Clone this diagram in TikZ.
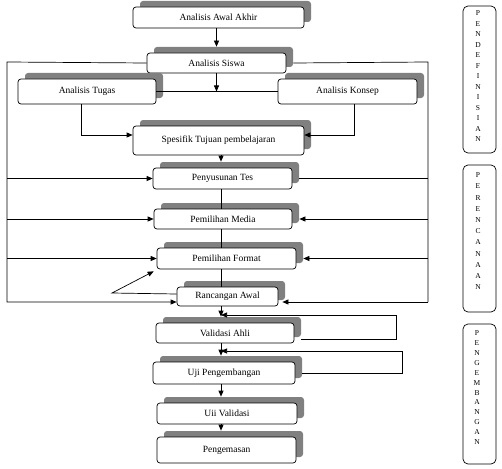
\documentclass[tikz,border=0pt]{standalone}
\usepackage{fontspec}
\setmainfont{Liberation Serif}
\usetikzlibrary{arrows.meta,shadows}
\definecolor{shade}{RGB}{128,128,128}
\begin{document}
\begin{tikzpicture}[x=1pt,y=-1pt,
  box/.style={draw, line width=0.7pt, rounded corners=3pt, fill=white, inner sep=0pt,
    font=\fontsize{9.5}{11}\selectfont,
    general shadow={fill=shade, shadow xshift=7pt, shadow yshift=6pt}},
  side/.style={draw, line width=0.7pt, rounded corners=5pt, minimum width=33pt, inner sep=0pt},
  letters/.style={inner sep=0pt, anchor=north, align=center, font=\fontsize{7.5}{#1}\selectfont},
  arr/.style={line width=0.7pt, -{Triangle[length=6pt,width=5pt]}},
  ln/.style={line width=0.7pt}
]
\useasboundingbox (0,0) rectangle (502,468);

% main boxes
\node[box, minimum width=171pt, minimum height=21pt] (aaa) at (218.5,17.5) {Analisis Awal Akhir};
\node[box, minimum width=139pt, minimum height=20pt] (siswa) at (216.5,63) {Analisis Siswa};
\node[box, minimum width=138pt, minimum height=25pt] (tugas) at (87,91.5) {Analisis Tugas};
\node[box, minimum width=139pt, minimum height=25pt] (konsep) at (347.5,91.5) {Analisis Konsep};
\node[box, minimum width=171pt, minimum height=29pt] (spes) at (218.5,140.5) {Spesifik Tujuan pembelajaran};
\node[box, minimum width=139pt, minimum height=21pt] (tes) at (222.5,178.5) {Penyusunan Tes};
\node[box, minimum width=138pt, minimum height=20pt] (media) at (223,219) {Pemilihan Media};
\node[box, minimum width=139pt, minimum height=21pt] (format) at (226.5,258.5) {Pemilihan Format};
\node[box, minimum width=101pt, minimum height=19pt] (ranc) at (227.5,296.5) {Rancangan Awal};
\node[box, minimum width=138pt, minimum height=20pt] (valid) at (225,333) {Validasi Ahli};
\node[box, minimum width=142pt, minimum height=22pt] (uji) at (224,373) {Uji Pengembangan};
\node[box, minimum width=140pt, minimum height=21pt] (uiival) at (227,413.5) {Uii Validasi};
\node[box, minimum width=139pt, minimum height=26pt] (kemas) at (226.5,450) {Pengemasan};

% side boxes
\node[side, minimum height=147pt] (sd1) at (479.5,79.5) {};
\node[side, minimum height=147pt] (sd2) at (479.5,238.5) {};
\node[side, minimum height=140pt] (sd3) at (479.5,394) {};
\node[letters=10.5] (t1) at (478,10.5) {P\\E\\N\\D\\E\\F\\I\\N\\I\\S\\I\\A\\N};
\node[letters=11.2] (t2) at (478,172.5) {P\\E\\R\\E\\N\\C\\A\\N\\A\\A\\N};
\node[letters=9.9] (t3) at (477,330.5) {P\\E\\N\\G\\E\\M\\B\\A\\N\\G\\A\\N};

% helper coordinates
\coordinate (lt) at (7,62);
\coordinate (lb) at (7,302);
\coordinate (rt) at (428,62);
\coordinate (rb) at (428,302);
\coordinate (sp) at (221,0);
\coordinate (va) at (396,315);
\coordinate (vb) at (396,339);
\coordinate (ua) at (402,351);
\coordinate (ub) at (402,373);
\coordinate (dg) at (112,293);

% top part
\draw[arr] (aaa.south -| siswa) -- ([yshift=6pt]siswa.north);
\draw[arr] (siswa.south) -- (siswa.south |- tugas.east);
\draw[ln] (tugas.east) -- (konsep.west);
\draw[arr] ([xshift=-6pt]tugas.south) |- ([yshift=5.5pt]spes.west);
\draw[arr] ([xshift=6.5pt]konsep.south) |- ([yshift=5.5pt]spes.east);

% left loop
\draw[arr] (siswa.west) -- (lt) -- (lb) -- (lb -| ranc.west);
\draw[arr] (tes.west -| lt) -- (tes.west);
\draw[arr] (media.west -| lt) -- (media.west);
\draw[arr] (format.west -| lt) -- (format.west);

% right loop
\draw[ln] ([xshift=7pt]siswa.east) -- (rt) -- (rb);
\draw[arr] (rb) -- ([xshift=4pt]rb -| ranc.east);
\draw[ln] ([xshift=7pt]tes.east) -- (tes.east -| rt);
\draw[arr] (media.east -| rt) -- ([xshift=7pt]media.east);
\draw[arr] (format.east -| rt) -- ([xshift=7pt]format.east);

% spine
\draw[arr] (sp |- spes.south) -- ([yshift=6pt]sp |- tes.north);
\draw[ln] (sp |- tes.south) -- (sp |- media.north);
\draw[ln] (sp |- media.south) -- (sp |- format.north);
\draw[ln] (sp |- format.south) -- (sp |- ranc.north);
\draw[arr] (sp |- ranc.south) -- ([yshift=6pt]sp |- valid.north);
\draw[arr] (sp |- valid.south) -- ([yshift=6pt]sp |- uji.north);
\draw[arr] (sp |- uji.south) -- ([yshift=6pt]sp |- uiival.north);
\draw[arr] (sp |- uiival.south) -- ([yshift=6pt]sp |- kemas.north);

% feedback loops
\draw[arr] ([xshift=7pt]valid.east |- vb) -- (vb) -- (va) -- (va -| sp);
\draw[arr] ([xshift=7pt]uji.east |- ub) -- (ub) -- (ua) -- (ua -| sp);

% diagonal
\draw[arr] ([yshift=2.5pt]ranc.west) -- (dg) -- ([xshift=-3pt,yshift=-2pt]format.south west);
\end{tikzpicture}
\end{document}
